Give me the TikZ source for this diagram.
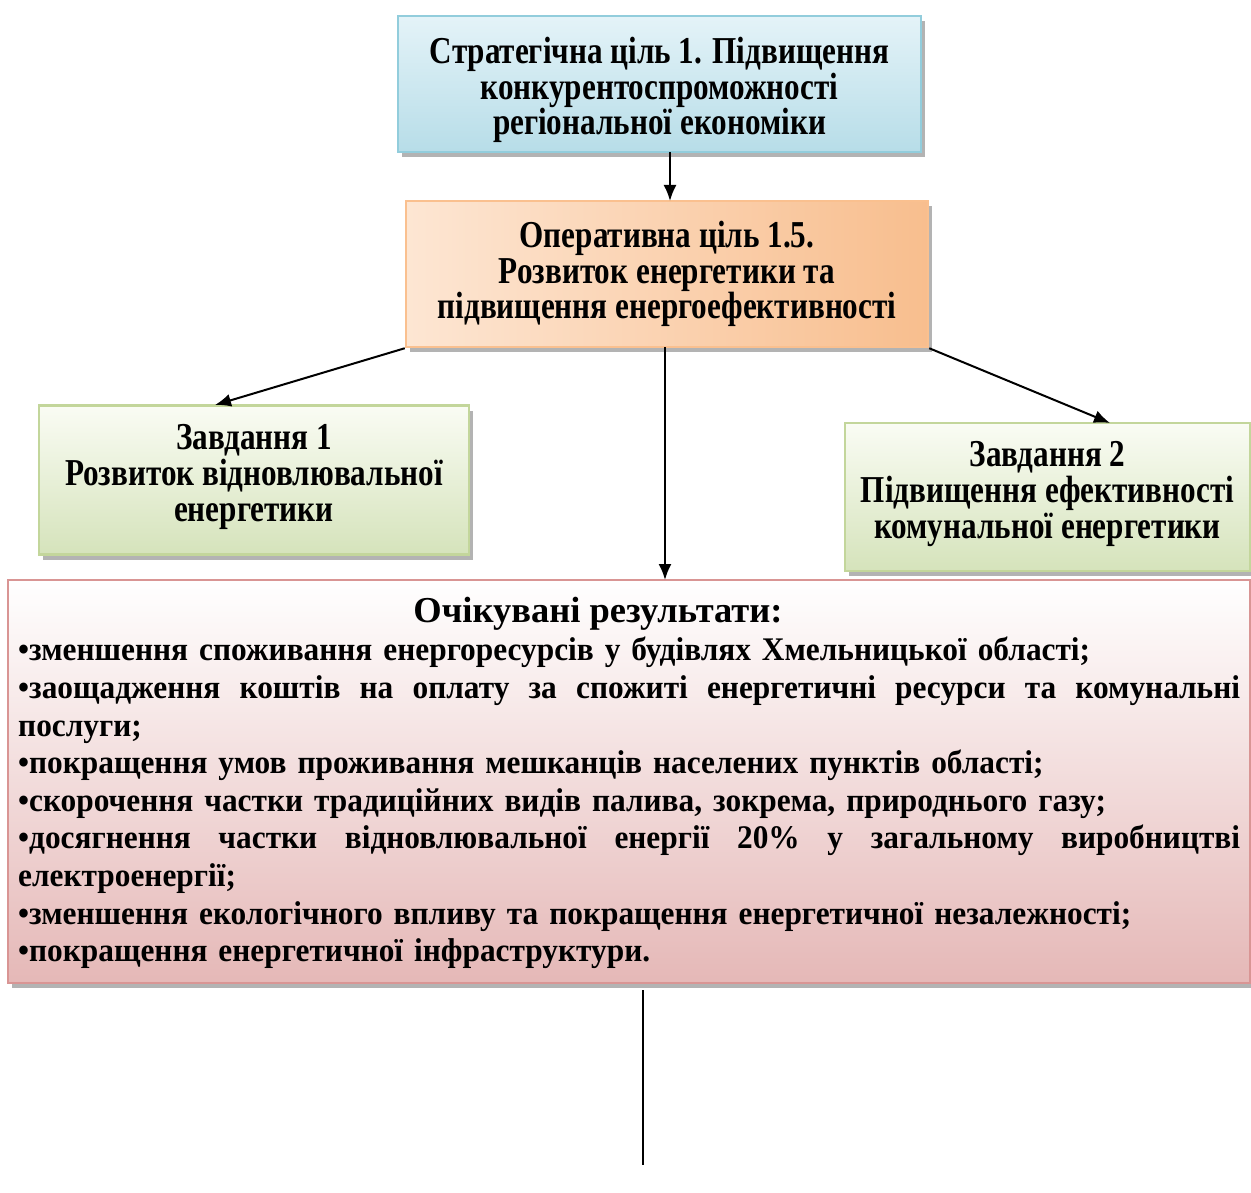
\documentclass[tikz,border=0pt]{standalone}
\usepackage{fontspec}
\setmainfont{Liberation Serif}
\newfontfamily\boxfont{Liberation Serif}[FakeStretch=0.82]
\newfontfamily\bodyfont{Liberation Serif}[FakeStretch=0.95]
\usetikzlibrary{arrows.meta,shadows}
\definecolor{bluebd}{HTML}{92CDDC}
\definecolor{bluetop}{HTML}{E4F3F8}
\definecolor{bluebot}{HTML}{B7DDE8}
\definecolor{orbd}{HTML}{FAC08F}
\definecolor{orleft}{HTML}{FDE6D3}
\definecolor{orright}{HTML}{F8BE8E}
\definecolor{grbd}{HTML}{C3D69B}
\definecolor{grtop}{HTML}{FAFCF4}
\definecolor{grbot}{HTML}{D5E3BB}
\definecolor{pkbd}{HTML}{D99594}
\definecolor{pktop}{HTML}{FFFFFF}
\definecolor{pkbot}{HTML}{E5B8B7}
\definecolor{shad}{HTML}{9A9A9A}
\tikzset{
  boxbase/.style={draw, line width=2.5pt, inner sep=0pt, align=center,
    font=\boxfont\bfseries\fontsize{38}{35.8}\selectfont,
    drop shadow={shadow xshift=4pt, shadow yshift=-5pt, fill=shad, opacity=0.75}},
  bluebox/.style={boxbase, draw=bluebd, top color=bluetop, bottom color=bluebot},
  orbox/.style={boxbase, draw=orbd, left color=orleft, right color=orright},
  grbox/.style={boxbase, draw=grbd, top color=grtop, bottom color=grbot},
  pkbox/.style={boxbase, draw=pkbd, top color=pktop, bottom color=pkbot},
  boxtext/.style={inner sep=0pt, align=center,
    font=\boxfont\bfseries\fontsize{38}{35.8}\selectfont},
  arr/.style={line width=2pt, -{Latex[length=16pt,width=13pt]}},
  plainline/.style={line width=2pt},
  titletxt/.style={inner sep=0pt, font=\bfseries\fontsize{36.5}{37.6}\selectfont},
  txt/.style={inner sep=0pt, align=left, text width=1222pt,
    font=\bodyfont\bfseries\fontsize{33}{37.6}\selectfont}
}
\begin{document}
\begin{tikzpicture}[x=1pt,y=-1pt]
\useasboundingbox (0,0) rectangle (1251,1193);
\node[bluebox, minimum width=523pt, minimum height=136pt] (s) at (659.5,84) {};
\node[boxtext] (st) at (659.5,90)
  {Стратегічна ціль 1. Підвищення\\конкурентоспроможності\\регіональної економіки};
\node[orbox, minimum width=522pt, minimum height=146pt] (o) at (667,274)
  {Оперативна ціль 1.5.\\Розвиток енергетики та\\підвищення енергоефективності};
\node[grbox, minimum width=430pt, minimum height=149pt] (g1) at (254,480) {};
\node[boxtext] (g1t) at (254,477)
  {Завдання 1\\Розвиток відновлювальної\\енергетики};
\node[grbox, minimum width=405pt, minimum height=148pt] (g2) at (1047.5,497) {};
\node[boxtext] (g2t) at (1047.5,494)
  {Завдання 2\\Підвищення ефективності\\комунальної енергетики};
\node[pkbox, minimum width=1242pt, minimum height=403pt] (p) at (629,781.5) {};
\node[titletxt, anchor=base] (pttl) at (598,622) {Очікувані результати:};
\node[txt, anchor=north west] (pt) at (18,630.7) {%
\rule{0pt}{30pt}•зменшення споживання енергоресурсів у будівлях Хмельницької області;\\
\makebox[1222pt][l]{•заощадження\hfill коштів\hfill на\hfill оплату\hfill за\hfill спожиті\hfill енергетичні\hfill ресурси\hfill та\hfill комунальні}\\
послуги;\\
•покращення умов проживання мешканців населених пунктів області;\\
•скорочення частки традиційних видів палива, зокрема, природнього газу;\\
\makebox[1222pt][l]{•досягнення\hfill частки\hfill відновлювальної\hfill енергії\hfill 20\%\hfill у\hfill загальному\hfill виробництві}\\
електроенергії;\\
•зменшення екологічного впливу та покращення енергетичної незалежності;\\
•покращення енергетичної інфраструктури.};
\coordinate (sa) at (670,152);
\coordinate (oa) at (670,201);
\coordinate (g1a) at (215,405);
\coordinate (g2a) at (1110,423);
\coordinate (ob) at (665,347);
\coordinate (pa) at (665,580);
\coordinate (lt) at (643,990);
\coordinate (lb) at (643,1165);
\draw[arr] (sa) -- (oa);
\draw[arr] (o.south west) -- (g1a);
\draw[arr] (o.south east) -- (g2a);
\draw[arr] (ob) -- (pa);
\draw[plainline] (lt) -- (lb);
\end{tikzpicture}
\end{document}
